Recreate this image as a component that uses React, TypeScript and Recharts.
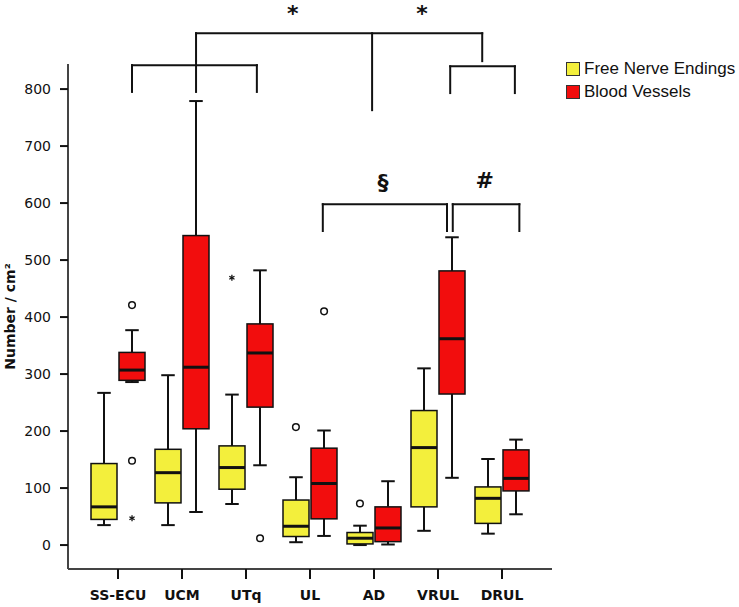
import React from "react";
import {
  ComposedChart,
  Bar,
  Scatter,
  XAxis,
  YAxis,
  ReferenceLine,
  ReferenceDot,
  Legend,
} from "recharts";

const categories = ["SS-ECU", "UCM", "UTq", "UL", "AD", "VRUL", "DRUL"];

// Free nerve endings (yellow)
const fneMin = [35, 35, 72, 5, 0, 25, 20];
const fneQ1 = [45, 74, 98, 15, 2, 67, 38];
const fneMedian = [67, 127, 136, 33, 12, 171, 82];
const fneQ3 = [143, 168, 174, 79, 22, 236, 102];
const fneMax = [267, 298, 264, 119, 34, 310, 151];

// Blood vessels (red)
const bvMin = [286, 58, 140, 16, 1, 118, 54];
const bvQ1 = [289, 204, 242, 46, 6, 265, 95];
const bvMedian = [307, 312, 337, 108, 30, 362, 117];
const bvQ3 = [338, 543, 388, 170, 67, 481, 167];
const bvMax = [377, 779, 482, 201, 112, 540, 185];

const fneCircleOutliers = [
  { cat: "UL", value: 207 },
  { cat: "AD", value: 73 },
];
const fneStarOutliers = [{ cat: "UTq", value: 469 }];
const bvCircleOutliers = [
  { cat: "SS-ECU", value: 421 },
  { cat: "SS-ECU", value: 148 },
  { cat: "UTq", value: 12 },
  { cat: "UL", value: 410 },
];
const bvStarOutliers = [{ cat: "SS-ECU", value: 47 }];

const yTicks = [0, 100, 200, 300, 400, 500, 600, 700, 800];

// significance brackets, in (category index, value) units
const brackets: [number, number][][] = [
  [[1.22, 849], [1.22, 898], [5.69, 898], [5.69, 849]],
  [[3.97, 898], [3.97, 763]],
  [[1.22, 849], [1.22, 795]],
  [[0.22, 795], [0.22, 842], [2.17, 842], [2.17, 795]],
  [[5.19, 793], [5.19, 840], [6.2, 840], [6.2, 793]],
  [[3.2, 551], [3.2, 598], [5.14, 598], [5.14, 551]],
  [[5.23, 551], [5.23, 598], [6.27, 598], [6.27, 551]],
];
const marks = [
  { x: 2.73, y: 934, text: "*" },
  { x: 4.75, y: 934, text: "*" },
  { x: 4.14, y: 637, text: "§" },
  { x: 5.73, y: 640, text: "#" },
];

const YELLOW = "#f3ef3c";
const RED = "#f20d0d";
const INK = "#111";
const OFFSET = 0.22;

const rows = categories.map((name, i) => ({
  name,
  fneMin: fneMin[i],
  fneQ1: fneQ1[i],
  fneMedian: fneMedian[i],
  fneQ3: fneQ3[i],
  fneMax: fneMax[i],
  bvMin: bvMin[i],
  bvQ1: bvQ1[i],
  bvMedian: bvMedian[i],
  bvQ3: bvQ3[i],
  bvMax: bvMax[i],
}));

const toPoints = (list: { cat: string; value: number }[], shift: number) =>
  list.map((o) => ({ x: categories.indexOf(o.cat) + shift, y: o.value }));

// the bar gives us q1..q3 in pixels, so the rest of the box follows from that
function BoxShape(props: any) {
  const { x, y, width, height, payload, fill, s } = props;
  const q1 = payload[s + "Q1"];
  const q3 = payload[s + "Q3"];
  const top = Math.min(y, y + height);
  const bottom = Math.max(y, y + height);
  const k = (bottom - top) / (q3 - q1);
  const yOf = (v: number) => bottom - (v - q1) * k;
  const cx = x + width / 2;
  const cap = width * 0.26;
  const yMax = yOf(payload[s + "Max"]);
  const yMin = yOf(payload[s + "Min"]);
  const yMed = yOf(payload[s + "Median"]);
  return (
    <g>
      <line x1={cx} x2={cx} y1={yMax} y2={top} stroke={INK} strokeWidth={2} />
      <line x1={cx - cap} x2={cx + cap} y1={yMax} y2={yMax} stroke={INK} strokeWidth={2} />
      <line x1={cx} x2={cx} y1={bottom} y2={yMin} stroke={INK} strokeWidth={2} />
      <line x1={cx - cap} x2={cx + cap} y1={yMin} y2={yMin} stroke={INK} strokeWidth={2} />
      <rect x={x} y={top} width={width} height={bottom - top} fill={fill} stroke={INK} strokeWidth={1.5} />
      <line x1={x} x2={x + width} y1={yMed} y2={yMed} stroke={INK} strokeWidth={3} />
    </g>
  );
}

const CircleMark = (p: any) => (
  <circle cx={p.cx} cy={p.cy} r={3.3} fill="#fff" stroke={INK} strokeWidth={1.5} />
);

const StarMark = (p: any) => {
  const r = 3;
  return (
    <g stroke={INK} strokeWidth={1.3}>
      <line x1={p.cx} x2={p.cx} y1={p.cy - r} y2={p.cy + r} />
      <line x1={p.cx - r * 0.87} x2={p.cx + r * 0.87} y1={p.cy - r / 2} y2={p.cy + r / 2} />
      <line x1={p.cx - r * 0.87} x2={p.cx + r * 0.87} y1={p.cy + r / 2} y2={p.cy - r / 2} />
    </g>
  );
};

const LegendBox = () => (
  <div
    style={{
      fontFamily: '"Liberation Sans", Arial, sans-serif',
      fontSize: 17,
      lineHeight: "23px",
      color: INK,
    }}
  >
    {[
      ["Free Nerve Endings", YELLOW],
      ["Blood Vessels", RED],
    ].map(([label, color]) => (
      <div key={label} style={{ display: "flex", alignItems: "center", whiteSpace: "nowrap" }}>
        <span
          style={{
            display: "inline-block",
            width: 12,
            height: 12,
            background: color,
            border: "1.5px solid #333",
            marginRight: 4,
          }}
        />
        {label}
      </div>
    ))}
  </div>
);

export default function App() {
  return (
    <div style={{ position: "absolute", left: 0, top: 0 }}>
      <ComposedChart
        width={739}
        height={607}
        data={rows}
        margin={{ top: 64, right: 187, bottom: 0, left: 0 }}
        barCategoryGap={5}
        barGap={2}
      >
        <XAxis
          xAxisId="cat"
          dataKey="name"
          type="category"
          interval={0}
          padding={{ left: 18, right: 18 }}
          height={38}
          tickSize={10}
          tickMargin={11}
          axisLine={{ stroke: "#444", strokeWidth: 2 }}
          tickLine={{ stroke: INK, strokeWidth: 2 }}
          tick={{
            fontFamily: "DejaVu Sans",
            fontWeight: "bold",
            fontSize: 14,
            fill: INK,
          }}
        />
        <XAxis xAxisId="num" dataKey="x" type="number" domain={[-0.78, 6.78]} hide allowDataOverflow />
        <YAxis
          type="number"
          domain={[-42, 844]}
          ticks={yTicks}
          allowDataOverflow
          width={68}
          tickSize={8}
          tickMargin={9}
          axisLine={{ stroke: "#444", strokeWidth: 2 }}
          tickLine={{ stroke: INK, strokeWidth: 2 }}
          tick={{ fontFamily: "DejaVu Sans", fontSize: 14, fill: INK }}
          label={{
            value: "Number / cm²",
            angle: -90,
            position: "insideLeft",
            offset: 10,
            style: {
              fontFamily: "DejaVu Sans",
              fontWeight: "bold",
              fontSize: 14,
              fill: INK,
              textAnchor: "middle",
            },
          }}
        />
        <Bar
          xAxisId="cat"
          dataKey={(d: any) => [d.fneQ1, d.fneQ3]}
          fill={YELLOW}
          isAnimationActive={false}
          shape={(p: any) => <BoxShape {...p} s="fne" />}
        />
        <Bar
          xAxisId="cat"
          dataKey={(d: any) => [d.bvQ1, d.bvQ3]}
          fill={RED}
          isAnimationActive={false}
          shape={(p: any) => <BoxShape {...p} s="bv" />}
        />
        <Scatter
          xAxisId="num"
          dataKey="y"
          data={[...toPoints(fneCircleOutliers, -OFFSET), ...toPoints(bvCircleOutliers, OFFSET)]}
          shape={CircleMark}
          isAnimationActive={false}
        />
        <Scatter
          xAxisId="num"
          dataKey="y"
          data={[...toPoints(fneStarOutliers, -OFFSET), ...toPoints(bvStarOutliers, OFFSET)]}
          shape={StarMark}
          isAnimationActive={false}
        />
        {brackets.flatMap((pts, bi) =>
          pts.slice(1).map((p, i) => (
            <ReferenceLine
              key={`b${bi}-${i}`}
              xAxisId="num"
              ifOverflow="visible"
              segment={[
                { x: pts[i][0], y: pts[i][1] },
                { x: p[0], y: p[1] },
              ]}
              stroke={INK}
              strokeWidth={2}
              strokeLinecap="square"
            />
          ))
        )}
        {marks.map((m, i) => (
          <ReferenceDot
            key={`m${i}`}
            xAxisId="num"
            x={m.x}
            y={m.y}
            r={0}
            fill="none"
            stroke="none"
            ifOverflow="visible"
            label={{
              value: m.text,
              position: "center",
              style: {
                fontFamily: "DejaVu Sans",
                fontWeight: "bold",
                fontSize: 22,
                fill: INK,
              },
            }}
          />
        ))}
        <Legend
          layout="horizontal"
          verticalAlign="middle"
          align="center"
          content={<LegendBox />}
          wrapperStyle={{ left: 566, top: 57, width: "auto" }}
        />
      </ComposedChart>
    </div>
  );
}
